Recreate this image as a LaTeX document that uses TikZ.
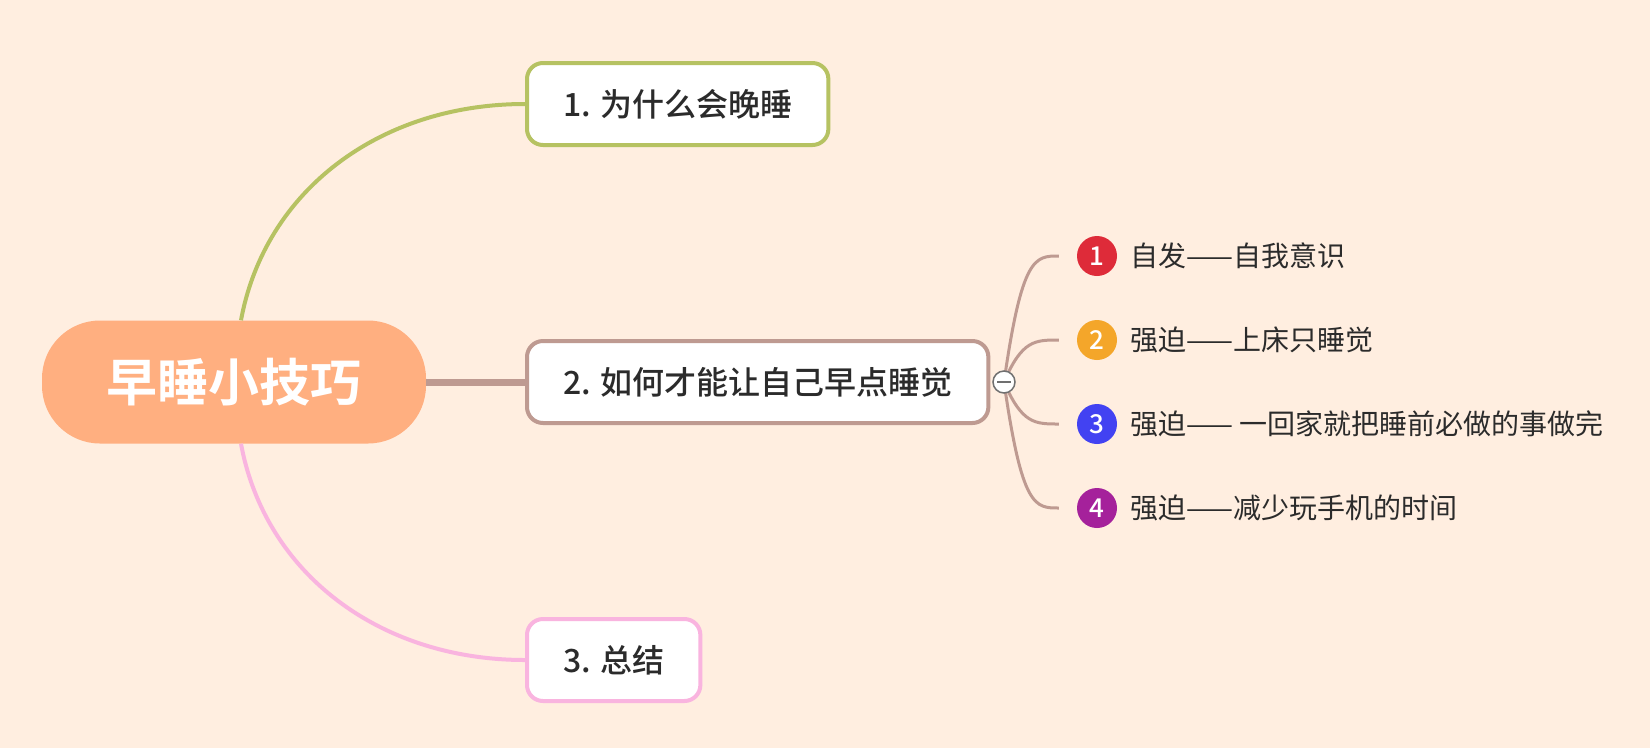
\documentclass[tikz,border=0pt]{standalone}
\usepackage{fontspec}
\setmainfont{Noto Sans CJK SC}[BoldFont={Noto Sans CJK SC Medium}]
\newfontfamily\grasfont{Noto Sans CJK SC Bold}
\usetikzlibrary{positioning}

\definecolor{fond}{HTML}{FFEEE0}
\definecolor{racinecol}{HTML}{FFAF80}
\definecolor{vert}{HTML}{B6C262}
\definecolor{brun}{HTML}{BE9A91}
\definecolor{rose}{HTML}{F9B4DF}
\definecolor{texte}{HTML}{2B2B2B}
\definecolor{gris}{HTML}{707070}
\definecolor{rouge}{HTML}{DE2B39}
\definecolor{jaune}{HTML}{F4A62A}
\definecolor{bleu}{HTML}{4242F2}
\definecolor{violet}{HTML}{A5219B}

\begin{document}
\begin{tikzpicture}[x=1pt,y=-1pt,
  racine/.style={fill=racinecol, text=white, rounded corners=58pt, minimum width=384pt, minimum height=123pt, font=\fontsize{51}{51}\selectfont\grasfont},
  theme/.style={draw, line width=4pt, fill=white, rounded corners=16pt, minimum height=82pt, inner xsep=36pt, text=texte, anchor=west, font=\fontsize{32}{32}\selectfont\bfseries},
  puce/.style={circle, minimum size=40pt, inner sep=0pt, text=white, font=\fontsize{26}{26}\selectfont\bfseries},
  sujet/.style={inner sep=0pt, text=texte, font=\fontsize{28}{28}\selectfont},
  branche/.style={brun, line width=3pt}]

% Fond
\fill[fond] (0,0) rectangle (1650,748);
\useasboundingbox (0,0) rectangle (1650,748);

% Noeud central
\node[racine] (racine) at (234,382) {早睡小技巧};

% Les thèmes
\node[theme, draw=vert] (t1) at (525,104) {1. 为什么会晚睡};
\node[theme, draw=brun] (t2) at (525,382) {2. 如何才能让自己早点睡觉};
\node[theme, draw=rose] (t3) at (525,660) {3. 总结};

% Les liens
\draw[vert, line width=4pt] ([xshift=7pt]racine.north) .. controls +(24,-130) and +(-145,0) .. (t1.west);
\draw[brun, line width=7pt] (racine.east) -- (t2.west);
\draw[rose, line width=4pt] ([xshift=7pt]racine.south) .. controls +(24,130) and +(-145,0) .. (t3.west);

% Les sous-thèmes
\coordinate (pivot) at (1004,382);
\foreach \n/\y/\c/\txt in {1/256/rouge/自发——自我意识, 2/340/jaune/强迫——上床只睡觉, 3/424/bleu/强迫—— 一回家就把睡前必做的事做完, 4/508/violet/强迫——减少玩手机的时间} {
  \node[puce, fill=\c] (p\n) at (1097,\y) {\n};
  \node[sujet, right=13pt of p\n] (s\n) {\txt};
  \draw[branche] (pivot) .. controls (1022,\y) and (1035,\y) .. ([xshift=-18pt]p\n.west);
}

% Bouton replier
\node[circle, draw=gris, fill=white, line width=1.5pt, minimum size=22pt, inner sep=0pt] (pli) at (pivot) {};
\draw[gris, line width=1.5pt] ([xshift=-7pt]pli.center) -- ([xshift=7pt]pli.center);

\end{tikzpicture}
\end{document}
